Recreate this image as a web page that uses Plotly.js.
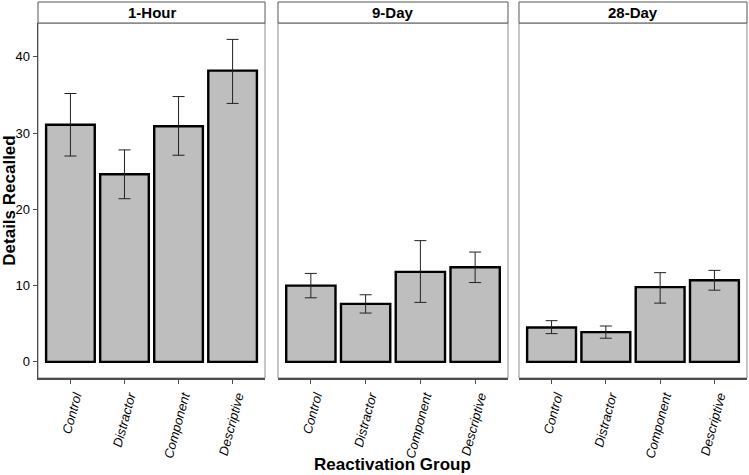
<!DOCTYPE html>
<html>
<head>
<meta charset="utf-8">
<script src="https://cdn.plot.ly/plotly-3.0.1.min.js"></script>
<style>html,body{margin:0;padding:0;background:#fff;}#chart{width:749px;height:475px;}</style>
</head>
<body>
<div id="chart"></div>
<script>
const groups = ["Control", "Distractor", "Component", "Descriptive"];
const panels = ["1-Hour", "9-Day", "28-Day"];

const hourMean = [31.1, 24.6, 30.9, 38.2];
const hourHigh = [35.2, 27.8, 34.8, 42.3];
const hourLow  = [27.0, 21.4, 27.1, 33.9];

const day9Mean = [10.0, 7.6, 11.8, 12.4];
const day9High = [11.6, 8.8, 15.9, 14.4];
const day9Low  = [8.4, 6.4, 7.8, 10.4];

const day28Mean = [4.5, 3.9, 9.8, 10.7];
const day28High = [5.4, 4.7, 11.7, 12.0];
const day28Low  = [3.7, 3.1, 7.7, 9.4];

const series = [
  [hourMean, hourHigh, hourLow],
  [day9Mean, day9High, day9Low],
  [day28Mean, day28High, day28Low]
];

const FONT = "Liberation Sans, Arial, sans-serif";
const domains = [[0, 0.3202], [0.3385, 0.6629], [0.6784, 1]];
const stripH = 21 / 355;

const traces = series.map((s, i) => {
  const [m, hi, lo] = s;
  const sfx = i === 0 ? "" : String(i + 1);
  return {
    type: "bar",
    x: groups,
    y: m,
    width: 0.9,
    xaxis: "x" + sfx,
    yaxis: "y" + sfx,
    marker: {color: "#BEBEBE", line: {color: "#000000", width: 2.4}},
    error_y: {
      type: "data", symmetric: false,
      array: hi.map((v, k) => v - m[k]),
      arrayminus: m.map((v, k) => v - lo[k]),
      color: "#222222", thickness: 1, width: 6
    },
    showlegend: false,
    hoverinfo: "skip"
  };
});

const layout = {
  width: 749, height: 475,
  margin: {l: 38, r: 2, t: 23, b: 97},
  paper_bgcolor: "#ffffff", plot_bgcolor: "#ffffff",
  font: {family: FONT, color: "#000"},
  bargap: 0.1,
  shapes: [],
  annotations: []
};

const yrange = [-2.12, 44.45];
for (let i = 0; i < 3; i++) {
  const sfx = i === 0 ? "" : String(i + 1);
  layout["xaxis" + sfx] = {
    domain: domains[i],
    anchor: "y" + sfx,
    type: "category",
    categoryorder: "array",
    categoryarray: groups,
    range: [-0.6, 3.6],
    showgrid: false, zeroline: false,
    showline: true, linecolor: "#4d4d4d", linewidth: 1.5,
    ticks: "outside", ticklen: 4, tickcolor: "#4d4d4d", tickwidth: 1,
    tickangle: -75,
    ticklabelshift: 5,
    tickfont: {family: FONT, size: 13, color: "#000", style: "italic"},
    fixedrange: true
  };
  layout["yaxis" + sfx] = {
    domain: [0, 1],
    anchor: "x" + sfx,
    range: yrange,
    showgrid: false, zeroline: false,
    showline: i === 0, linecolor: "#4d4d4d", linewidth: 1.5,
    ticks: i === 0 ? "outside" : "", ticklen: 4, tickcolor: "#4d4d4d",
    showticklabels: i === 0,
    tickvals: [0, 10, 20, 30, 40],
    tickfont: {family: FONT, size: 13, color: "#000"},
    fixedrange: true
  };
  if (i > 0) layout["yaxis" + sfx].matches = "y";
  layout.shapes.push({
    type: "rect", xref: "paper", yref: "paper",
    x0: domains[i][0], x1: domains[i][1], y0: 0, y1: 1,
    line: {color: "#8c8c8c", width: 1}, fillcolor: "rgba(0,0,0,0)", layer: "below"
  });
  layout.shapes.push({
    type: "rect", xref: "paper", yref: "paper",
    x0: domains[i][0], x1: domains[i][1], y0: 1, y1: 1 + stripH,
    line: {color: "#555555", width: 1}, fillcolor: "#ffffff"
  });
  layout.annotations.push({
    xref: "paper", yref: "paper",
    x: (domains[i][0] + domains[i][1]) / 2, y: 1 + stripH / 2,
    xanchor: "center", yanchor: "middle",
    text: "<b>" + panels[i] + "</b>", showarrow: false,
    font: {family: FONT, size: 15, color: "#000"}
  });
}
layout.yaxis.title = {text: "<b>Details Recalled</b>", font: {family: FONT, size: 17, color: "#000"}, standoff: 7};
layout.annotations.push({
  xref: "paper", yref: "paper", x: 0.5, y: -0.212,
  xanchor: "center", yanchor: "top",
  text: "<b>Reactivation Group</b>", showarrow: false,
  font: {family: FONT, size: 17, color: "#000"}
});

Plotly.newPlot("chart", traces, layout, {displayModeBar: false, staticPlot: true});
</script>
</body>
</html>
